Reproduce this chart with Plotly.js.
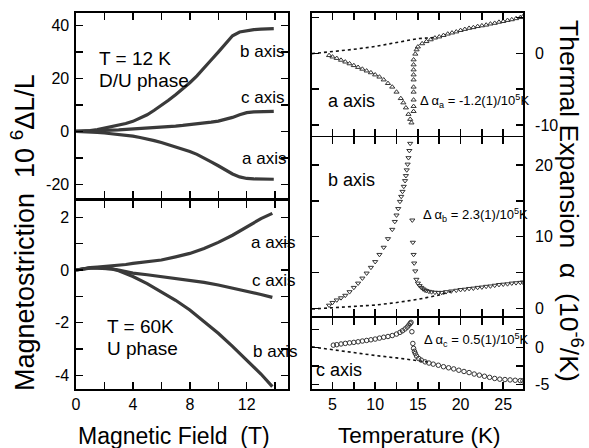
<!DOCTYPE html>
<html><head><meta charset="utf-8">
<script src="https://cdn.plot.ly/plotly-3.0.1.min.js"></script>
<style>html,body{margin:0;padding:0;background:#fff}#plot{width:589px;height:448px}</style>
</head><body><div id="plot"></div>
<script>
// ---- Magnetostriction, T = 12 K (D/U phase)
const field12 = [0,0.5,1,1.5,2,2.5,3,3.5,4,4.5,5,5.5,6,6.5,7,7.5,8,8.5,9,9.5,10,10.5,11,11.5,12,12.5,13,13.5,13.9];
const b12 = [0,0.1,0.3,0.7,1.2,1.7,2.2,3.0,3.8,5.0,6.3,8.0,9.8,11.8,13.9,16.0,18.4,21.0,23.8,27.0,30.0,33.3,36.2,37.6,38.2,38.5,38.7,38.8,38.9];
const c12 = [0,0.05,0.15,0.25,0.35,0.5,0.6,0.75,0.9,1.05,1.2,1.4,1.6,1.8,2.0,2.25,2.5,2.8,3.1,3.5,3.9,4.5,5.3,6.3,7.1,7.4,7.5,7.6,7.6];
const a12 = [0,-0.05,-0.2,-0.4,-0.6,-0.85,-1.1,-1.4,-1.8,-2.3,-2.8,-3.5,-4.2,-5.0,-5.8,-6.7,-7.6,-8.7,-10.0,-11.5,-13.0,-14.6,-16.1,-17.2,-17.8,-18.0,-18.1,-18.1,-18.1];
// ---- Magnetostriction, T = 60 K (U phase)
const field60 = [0,0.5,1,1.5,2,2.5,3,3.5,4,5,6,7,8,9,10,11,12,13,13.8];
const a60 = [0,0.06,0.09,0.11,0.13,0.15,0.18,0.21,0.25,0.3,0.38,0.5,0.63,0.82,1.05,1.32,1.63,1.95,2.15];
const c60 = [0,0.05,0.07,0.07,0.06,0.04,0.0,-0.06,-0.12,-0.18,-0.25,-0.31,-0.38,-0.47,-0.57,-0.68,-0.8,-0.93,-1.04];
const b60 = [0,0.05,0.08,0.09,0.08,0.04,-0.03,-0.13,-0.25,-0.52,-0.82,-1.15,-1.52,-1.95,-2.4,-2.9,-3.42,-3.95,-4.43];
// ---- Thermal expansion, a axis
const tempA = [4.6,5,5.5,6,6.5,7,7.5,8,8.5,9,9.5,10,10.5,11,11.5,12,12.5,13,13.3,13.6,13.9,14.1,14.25,
  14.5,14.5,14.5,14.5,14.5,14.5,14.5,14.5,14.5,14.5,
  14.7,14.85,15,15.5,16,16.5,17,17.5,18,18.5,19,19.5,20,20.5,21,21.5,22,22.5,23,23.5,24,24.5,25,25.5,26,26.5,27,27.3];
const alphaA = [-0.3,-0.5,-0.7,-0.95,-1.2,-1.45,-1.7,-1.95,-2.2,-2.45,-2.7,-3.0,-3.3,-3.7,-4.2,-4.7,-5.4,-6.3,-6.9,-7.6,-8.5,-9.2,-9.7,
  -8.1,-7.4,-6.5,-5.4,-4.7,-3.7,-3.0,-2.3,-1.6,-0.9,
  -0.1,0.5,0.9,1.35,1.65,1.9,2.15,2.3,2.5,2.7,2.85,3.0,3.2,3.35,3.5,3.6,3.75,3.85,3.95,4.1,4.2,4.35,4.45,4.6,4.7,4.85,5.0,5.1];
const baseTempA = [2.6,5,7.5,10,12.5,15,17];
const baseAlphaA = [-0.05,0.2,0.55,0.95,1.45,2.05,2.2];
// ---- Thermal expansion, b axis
const tempB = [4.6,5,5.5,6,6.5,7,7.5,8,8.5,9,9.5,10,10.5,11,11.5,12,12.3,12.5,12.7,12.9,13.05,13.2,13.35,13.5,13.6,13.7,13.8,13.9,14.0,14.1,14.2,
  14.35,14.41,14.5,14.57,14.7,14.83,
  15.0,15.2,15.4,15.6,15.8,16,16.3,16.6,17,17.4,17.8,18.3,18.9,19.5,20,20.5,21,21.5,22,22.5,23,23.5,24,24.5,25,25.5,26,26.5,27,27.3];
const alphaB = [0.42,0.8,1.15,1.45,1.8,2.3,2.9,3.5,4.2,4.9,5.7,6.5,7.5,8.5,9.7,11.0,12.1,13.0,13.9,14.9,15.6,16.3,17.0,17.8,18.5,19.3,20.1,21.0,22.0,23.0,24.2,
  12.3,9.2,7.5,6.3,5.2,4.03,
  3.5,3.15,2.9,2.7,2.55,2.45,2.35,2.28,2.22,2.2,2.2,2.3,2.4,2.5,2.6,2.65,2.75,2.8,2.9,2.95,3.05,3.1,3.2,3.3,3.35,3.4,3.5,3.55,3.6,3.65];
const baseTempB = [2.6,5,7.5,10,12.5,15,17.5,19];
const baseAlphaB = [-0.1,0.1,0.25,0.45,0.8,1.25,1.85,2.4];
// ---- Thermal expansion, c axis
const tempC = [5.1,5.5,6,6.5,7,7.5,8,8.5,9,9.5,10,10.5,11,11.5,12,12.5,12.9,13.2,13.5,13.75,13.95,14.1,14.2,
  14.3,14.41,14.5,14.6,14.7,
  14.85,15.1,15.4,15.85,16.3,16.8,17.4,18,18.6,19.2,19.8,20.4,21,21.6,22.2,22.8,23.4,24,24.6,25.2,25.8,26.4,27,27.3];
const alphaC = [0.34,0.4,0.5,0.58,0.65,0.72,0.8,0.9,0.98,1.07,1.17,1.3,1.42,1.52,1.65,1.85,2.08,2.3,2.55,2.8,3.08,3.3,3.45,
  2.17,0.57,-0.1,-0.5,-0.8,
  -1.15,-1.48,-1.7,-1.94,-2.1,-2.25,-2.4,-2.6,-2.75,-2.9,-3.08,-3.25,-3.4,-3.6,-3.75,-3.9,-4.05,-4.2,-4.3,-4.35,-4.4,-4.45,-4.5,-4.52];
const baseTempC = [2.6,5,7.5,10,12.5,15,16.5];
const baseAlphaC = [0.1,-0.3,-0.7,-1.07,-1.4,-1.75,-2.0];
// ---- tick labels
const fieldTicks = [0,4,8,12];
const fieldTickText = ['0','4','8','12'];
const ms12Ticks = [-20,0,20,40];
const ms12TickText = ['-20','0','20','40'];
const ms60Ticks = [-4,-2,0,2];
const ms60TickText = ['-4','-2','0','2'];
const tempTicks = [5,10,15,20,25];
const tempTickText = ['5','10','15','20','25'];
const teATicks = [-10,0];
const teATickText = ['-10','0'];
const teBTicks = [0,10,20];
const teBTickText = ['0','10','20'];
const teCTicks = [-5,0];
const teCTickText = ['-5','0'];

const W = 589, H = 448;
const px = x => x / W;
const py = y => 1 - y / H;
const FONT = 'Liberation Sans, Arial, Helvetica, sans-serif';

function lineTrace(x, y, xa, ya) {
  return {x, y, xaxis: xa, yaxis: ya, mode: 'lines', type: 'scatter',
    line: {color: '#3a3a3a', width: 3.2}, hoverinfo: 'skip'};
}
function ptTrace(x, y, xa, ya, sym) {
  return {x, y, xaxis: xa, yaxis: ya, mode: 'markers', type: 'scatter',
    marker: {symbol: sym, size: 4.5, color: '#333', line: {color: '#333', width: 1}}, hoverinfo: 'skip'};
}
function dotTrace(x, y, xa, ya) {
  return {x, y, xaxis: xa, yaxis: ya, mode: 'lines', type: 'scatter',
    line: {color: '#111', width: 1.6, dash: 'dot'}, hoverinfo: 'skip'};
}

const traces = [
  lineTrace(field12, b12, 'x', 'y'),
  lineTrace(field12, c12, 'x', 'y'),
  lineTrace(field12, a12, 'x', 'y'),
  lineTrace(field60, a60, 'x2', 'y2'),
  lineTrace(field60, c60, 'x2', 'y2'),
  lineTrace(field60, b60, 'x2', 'y2'),
  dotTrace(baseTempA, baseAlphaA, 'x3', 'y3'),
  ptTrace(tempA, alphaA, 'x3', 'y3', 'triangle-up-open'),
  dotTrace(baseTempB, baseAlphaB, 'x4', 'y4'),
  ptTrace(tempB, alphaB, 'x4', 'y4', 'triangle-down-open'),
  dotTrace(baseTempC, baseAlphaC, 'x5', 'y5'),
  ptTrace(tempC, alphaC, 'x5', 'y5', 'circle-open'),
];

function ax(extra, mdt) {
  return Object.assign({
    showline: true, linecolor: '#000', linewidth: 1.6, mirror: 'ticks',
    ticks: 'inside', ticklen: 7, tickwidth: 1.5, tickcolor: '#000',
    showgrid: false, zeroline: false, fixedrange: true,
    tickfont: {family: FONT, size: 16, color: '#000'},
    tickmode: 'array',
    minor: {tickmode: 'linear', tick0: 0, dtick: mdt, ticks: 'inside', ticklen: 7, tickcolor: '#000', tickwidth: 1.5}
  }, extra);
}

const xL = [px(76), px(288)];
const xR = [px(312), px(523.3)];

const layout = {
  width: W, height: H,
  margin: {l: 0, r: 0, t: 0, b: 0},
  paper_bgcolor: '#fff', plot_bgcolor: '#fff',
  showlegend: false,
  font: {family: FONT, color: '#000'},
  xaxis: ax({domain: xL, anchor: 'y', range: [0, 14.9], tickvals: fieldTicks, ticktext: fieldTickText, showticklabels: false}, 2),
  yaxis: ax({domain: [py(198), py(13)], anchor: 'x', range: [-25.2, 44.8], tickvals: ms12Ticks, ticktext: ms12TickText, ticklabelstandoff: 2}, 10),
  xaxis2: ax({domain: xL, anchor: 'y2', range: [0, 14.9], tickvals: fieldTicks, ticktext: fieldTickText, ticklabelstandoff: 0}, 2),
  yaxis2: ax({domain: [py(389.3), py(201)], anchor: 'x2', range: [-4.53, 2.62], tickvals: ms60Ticks, ticktext: ms60TickText, ticklabelstandoff: 2}, 1),
  xaxis3: ax({domain: xR, anchor: 'y3', range: [2.6, 27.35], tickvals: tempTicks, ticktext: tempTickText, showticklabels: false}, 2.5),
  yaxis3: ax({domain: [py(135.7), py(12.7)], anchor: 'x3', side: 'right', range: [-11.5, 5.66], tickvals: teATicks, ticktext: teATickText, ticklabelstandoff: 7}, 5),
  xaxis4: ax({domain: xR, anchor: 'y4', range: [2.6, 27.35], tickvals: tempTicks, ticktext: tempTickText, showticklabels: false}, 2.5),
  yaxis4: ax({domain: [py(315.7), py(137.3)], anchor: 'x4', side: 'right', range: [-1.03, 23.86], tickvals: teBTicks, ticktext: teBTickText, ticklabelstandoff: 7}, 5),
  xaxis5: ax({domain: xR, anchor: 'y5', range: [2.6, 27.35], tickvals: tempTicks, ticktext: tempTickText, ticklabelstandoff: 0}, 2.5),
  yaxis5: ax({domain: [py(389.3), py(318.3)], anchor: 'x5', side: 'right', range: [-5.68, 4.0], tickvals: teCTicks, ticktext: teCTickText, ticklabelstandoff: 7}, 2.5),
  annotations: []
};

function note(text, x, y, size, anchor, angle) {
  layout.annotations.push({text, x: px(x), y: py(y), xref: 'paper', yref: 'paper',
    xanchor: anchor || 'left', yanchor: 'middle', showarrow: false, textangle: angle || 0,
    font: {family: FONT, size: size, color: '#000'}});
}
// axis titles
note('Magnetic Field  (T)', 174, 435.5, 23, 'center');
note('Temperature (K)', 419, 435.5, 22.5, 'center');
note('Magnetostriction  10 <sup>6</sup>ΔL/L', 23, 233, 27, 'center', -90);
note('Thermal Expansion  α  (10<sup>-6</sup>/K)', 571, 201, 26.5, 'center', 90);
// left panel labels
note('T = 12 K', 97, 58.7, 19);
note('D/U phase', 97, 80, 19);
note('b axis', 238, 51.7, 17);
note('c axis', 239, 97.3, 17);
note('a axis', 240, 158.3, 17);
note('a axis', 249, 242.7, 17);
note('c axis', 250, 280.7, 17);
note('b axis', 250.5, 351.7, 17);
note('T = 60K', 105, 326, 19);
note('U phase', 105, 348.3, 19);
// right panel labels
note('a axis', 326, 100.7, 18);
note('b axis', 326, 180, 18);
note('c axis', 314, 370, 18);
note('Δ α<sub>a</sub> = -1.2(1)/10<sup>5</sup>K', 418, 101, 13);
note('Δ α<sub>b</sub> = 2.3(1)/10<sup>5</sup>K', 420.5, 215, 13);
note('Δ α<sub>c</sub> = 0.5(1)/10<sup>5</sup>K', 422, 340, 13);

Plotly.newPlot('plot', traces, layout, {staticPlot: true, displayModeBar: false});
</script></body></html>
